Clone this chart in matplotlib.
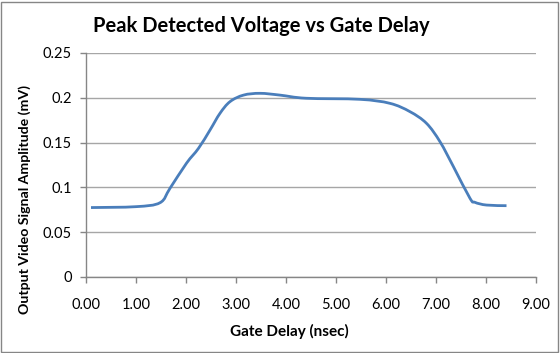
import numpy as np
import matplotlib.pyplot as plt
from matplotlib.path import Path
from matplotlib.patches import PathPatch, Rectangle

# gate delay (nsec) and peak detected voltage (mV)
gate_delay = [0.1, 1.0, 1.48, 1.68, 2.01, 2.25, 2.48, 2.68, 2.88, 3.15, 3.48, 3.88, 4.4,
              5.48, 6.08, 6.48, 6.81, 7.08, 7.35, 7.68, 7.78, 8.01, 8.41]
voltage = [0.0775, 0.0785, 0.0829, 0.099, 0.127, 0.1436, 0.164, 0.1827, 0.1957, 0.203, 0.205, 0.203, 0.1995,
           0.1983, 0.1938, 0.1845, 0.1715, 0.151, 0.123, 0.0878, 0.0833, 0.0803, 0.0796]

x_ticks = [0, 1, 2, 3, 4, 5, 6, 7, 8, 9]
y_ticks = [0, 0.05, 0.1, 0.15, 0.2, 0.25]

line_color = '#4A7EBB'
grid_color = '#A6A6A6'
font = 'Lato'

fig = plt.figure(figsize=(5.6, 3.53), dpi=100)
ax = fig.add_axes([86 / 560, 1 - 277 / 353, 450 / 560, 224 / 353])

# Excel style smoothed line: cubic bezier through the data points
x = np.array(gate_delay)
y = np.array(voltage)
verts = [(x[0], y[0])]
codes = [Path.MOVETO]
n = len(x)
for i in range(n - 1):
    x0, y0 = (x[i - 1], y[i - 1]) if i > 0 else (x[i], y[i])
    x3, y3 = (x[i + 2], y[i + 2]) if i + 2 < n else (x[i + 1], y[i + 1])
    c1 = (x[i] + (x[i + 1] - x0) / 6, y[i] + (y[i + 1] - y0) / 6)
    c2 = (x[i + 1] - (x3 - x[i]) / 6, y[i + 1] - (y3 - y[i]) / 6)
    verts += [c1, c2, (x[i + 1], y[i + 1])]
    codes += [Path.CURVE4] * 3
ax.add_patch(PathPatch(Path(verts, codes), facecolor='none', edgecolor=line_color,
                       lw=2, capstyle='butt', zorder=3))

ax.set_xlim(0, 9)
ax.set_ylim(0, 0.25)
ax.set_xticks(x_ticks)
ax.set_xticklabels([f'{v:.2f}' for v in x_ticks])
ax.set_yticks(y_ticks)
ax.set_yticklabels(['0', '0.05', '0.1', '0.15', '0.2', '0.25'])
ax.grid(axis='y', color=grid_color, lw=1)
ax.set_axisbelow(True)
for s in ['top', 'right']:
    ax.spines[s].set_visible(False)
for s in ['left', 'bottom']:
    ax.spines[s].set_color('#868686')
    ax.spines[s].set_linewidth(1)
ax.tick_params(axis='both', direction='out', length=4, width=1, color='#868686',
               labelsize=10.5, labelcolor='black')
ax.tick_params(axis='x', pad=11)
ax.tick_params(axis='y', pad=6)
for lab in ax.get_xticklabels() + ax.get_yticklabels():
    lab.set_fontfamily(font)

fig.text(261 / 560, 1 - 26 / 353, 'Peak Detected Voltage vs Gate Delay', ha='center', va='center',
         fontsize=14.5, fontweight='bold', family=font)
fig.text(289 / 560, 1 - 331 / 353, 'Gate Delay (nsec)', ha='center', va='center',
         fontsize=11, fontweight='bold', family=font)
fig.text(25 / 560, 1 - 199 / 353, 'Output Video Signal Amplitude (mV)', ha='center', va='center',
         rotation=90, fontsize=10.2, fontweight='bold', family=font)

# chart border
fig.patches.append(Rectangle((1 / 560, 1 / 353), 557 / 560, 350 / 353, transform=fig.transFigure,
                             facecolor='none', edgecolor='#868686', lw=1))

fig.savefig('out.png', dpi=100)
